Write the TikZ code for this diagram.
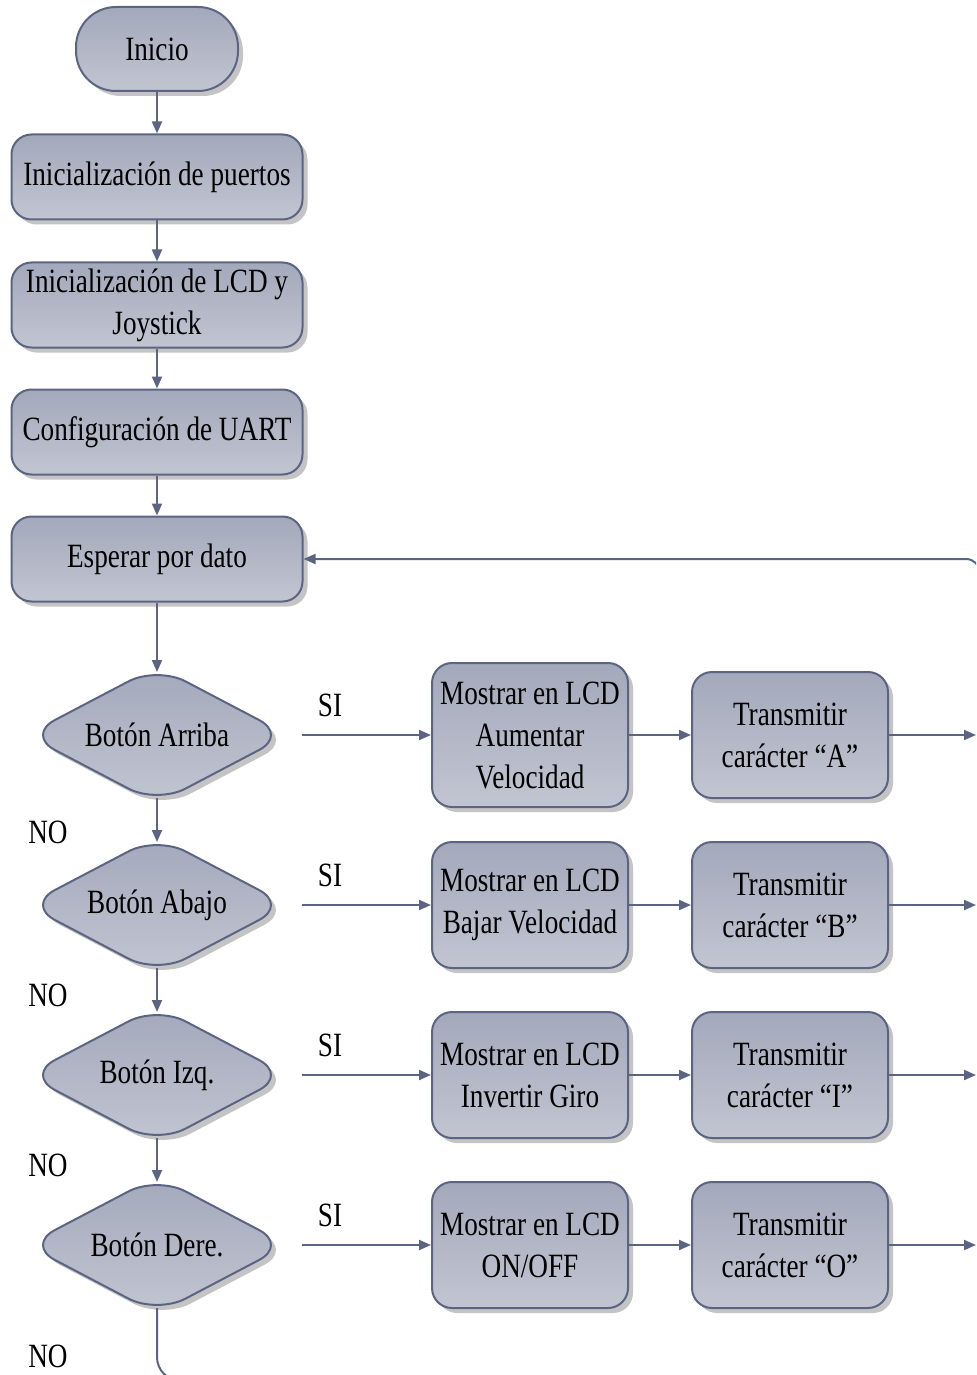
\documentclass[tikz,border=0pt]{standalone}
\usepackage{fontspec}
\setmainfont{Liberation Serif}[FakeStretch=0.8]
\usetikzlibrary{shapes.geometric,shadows,arrows.meta,calc}
\definecolor{edge}{HTML}{5C6484}
\definecolor{fillA}{HTML}{A3A8BB}
\definecolor{fillB}{HTML}{C2C5D1}
\definecolor{shade}{HTML}{BEBEBE}
\begin{document}
\begin{tikzpicture}[x=0.5pt,y=-0.5pt,
  base/.style={draw=edge, line width=1pt, top color=fillA, bottom color=fillB,
    drop shadow={shadow xshift=2.5pt, shadow yshift=-2.5pt, fill=shade, opacity=0.9},
    font=\fontsize{17}{21}\selectfont, align=center, inner sep=0pt},
  proc/.style={base, rectangle, rounded corners=10pt},
  term/.style={base, rectangle, rounded corners=20pt, minimum width=81pt, minimum height=42pt},
  dec/.style={base, diamond, aspect=2.1, rounded corners=16pt, minimum width=131pt, minimum height=69pt},
  wide/.style={minimum width=145.5pt, minimum height=42.5pt},
  small/.style={minimum width=98pt, minimum height=63pt},
  line/.style={draw=edge, line width=1pt},
  arr/.style={line, -{Triangle[length=6pt,width=5pt]}},
  lab/.style={font=\fontsize{17}{21}\selectfont, inner sep=0pt}]
\useasboundingbox (0,0) rectangle (976,1375);
\clip (0,0) rectangle (976,1375);

\node[term] (ini) at (157,49) {Inicio};
\node[proc, wide] (p1) at (157,177) {Inicialización de puertos};
\node[proc, wide] (p2) at (157,305) {Inicialización de LCD y\\Joystick};
\node[proc, wide] (p3) at (157,432) {Configuración de UART};
\node[proc, wide] (p4) at (157,559) {Esperar por dato};

\node[dec] (d1) at (157,735) {Botón Arriba};
\node[dec] (d2) at (157,905) {Botón Abajo};
\node[dec] (d3) at (157,1075) {Botón Izq.};
\node[dec] (d4) at (157,1245) {Botón Dere.};

\node[proc, small, minimum height=72pt] (m1) at (530,735) {Mostrar en LCD\\Aumentar\\Velocidad};
\node[proc, small] (m2) at (530,905) {Mostrar en LCD\\Bajar Velocidad};
\node[proc, small] (m3) at (530,1075) {Mostrar en LCD\\Invertir Giro};
\node[proc, small] (m4) at (530,1245) {Mostrar en LCD\\ON/OFF};

\node[proc, small] (t1) at (790,735) {Transmitir\\carácter “A”};
\node[proc, small] (t2) at (790,905) {Transmitir\\carácter “B”};
\node[proc, small] (t3) at (790,1075) {Transmitir\\carácter “I”};
\node[proc, small] (t4) at (790,1245) {Transmitir\\carácter “O”};

\node[lab] (si1) at (330,705) {SI};
\node[lab] (si2) at (330,875) {SI};
\node[lab] (si3) at (330,1045) {SI};
\node[lab] (si4) at (330,1215) {SI};
\node[lab] (no1) at (48,832) {NO};
\node[lab] (no2) at (48,995) {NO};
\node[lab] (no3) at (48,1165) {NO};
\node[lab] (no4) at (48,1356) {NO};

\draw[arr] (ini) -- (p1);
\draw[arr] (p1) -- (p2);
\draw[arr] (p2) -- (p3);
\draw[arr] (p3) -- (p4);
\draw[arr, shorten >=-3.5pt] (p4) -- (d1);
\draw[arr, shorten <=-3.5pt, shorten >=-3.5pt] (d1) -- (d2);
\draw[arr, shorten <=-3.5pt, shorten >=-3.5pt] (d2) -- (d3);
\draw[arr, shorten <=-3.5pt, shorten >=-3.5pt] (d3) -- (d4);

\foreach \i in {1,2,3,4}{
  \coordinate (s\i) at ($(d\i.center)+(145,0)$);
  \draw[arr] (s\i) -- (m\i.west);
  \draw[arr] (m\i) -- (t\i);
  \coordinate (r\i) at ($(t\i.east)+(87,0)$);
  \draw[arr] (t\i) -- (r\i);
}

\coordinate (ret) at (980,900);
\draw[arr, rounded corners=7pt] (ret) |- (p4.east);
\coordinate (endp) at (400,1381);
\draw[line, rounded corners=12pt, shorten <=-3.5pt] (d4.south) |- (endp);
\end{tikzpicture}
\end{document}
